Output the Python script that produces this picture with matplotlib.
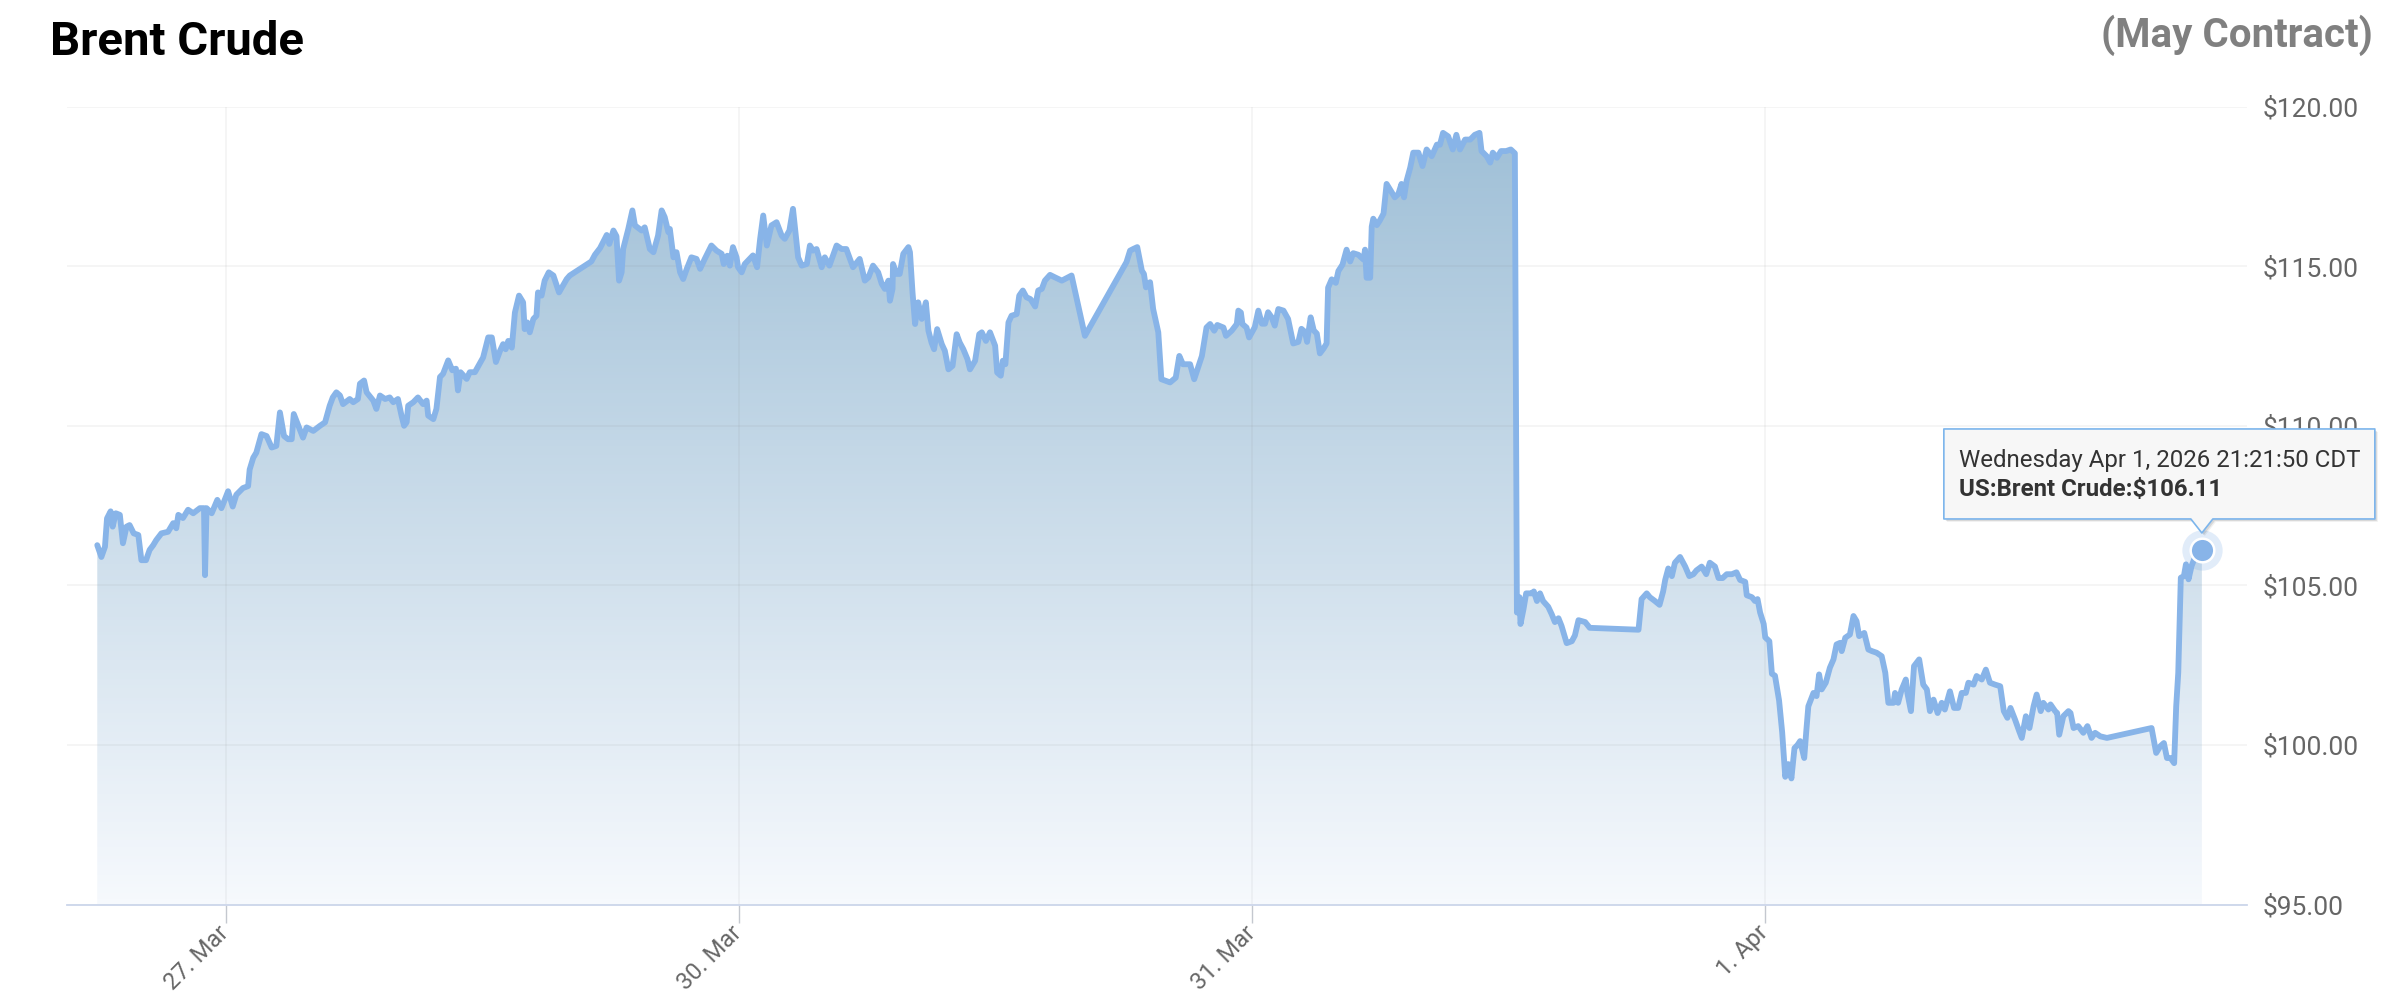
import matplotlib
matplotlib.use("Agg")
import matplotlib.pyplot as plt
import matplotlib.transforms as mtransforms
import numpy as np
from matplotlib.colors import LinearSegmentedColormap
from matplotlib.patches import Polygon

# x = trading-session position (0 = 27 Mar, 1 = 30 Mar, 2 = 31 Mar, 3 = 1 Apr), weekend skipped
t_days = [
    -0.250, -0.242, -0.235, -0.231, -0.224, -0.220, -0.214, -0.206, -0.200, -0.193,
    -0.187, -0.179, -0.170, -0.164, -0.155, -0.148, -0.141, -0.135, -0.125, -0.112,
    -0.102, -0.096, -0.092, -0.083, -0.073, -0.063, -0.050, -0.042, -0.040, -0.037,
    -0.027, -0.016, -0.008, 0.005, 0.014, 0.021, 0.034, 0.044, 0.047, 0.054,
    0.060, 0.070, 0.080, 0.090, 0.099, 0.106, 0.114, 0.122, 0.129, 0.133,
    0.142, 0.151, 0.158, 0.171, 0.184, 0.194, 0.203, 0.209, 0.216, 0.223,
    0.229, 0.242, 0.249, 0.258, 0.262, 0.270, 0.275, 0.288, 0.294, 0.301,
    0.311, 0.320, 0.327, 0.336, 0.343, 0.348, 0.353, 0.356, 0.366, 0.375,
    0.385, 0.392, 0.395, 0.405, 0.411, 0.418, 0.424, 0.434, 0.442, 0.449,
    0.453, 0.458, 0.470, 0.476, 0.486,
    0.502, 0.512, 0.519, 0.527, 0.535, 0.541, 0.546, 0.551, 0.558, 0.564,
    0.572, 0.580, 0.583, 0.588, 0.593, 0.600, 0.606, 0.609, 0.616, 0.622,
    0.630, 0.639, 0.650, 0.665, 0.671, 0.713, 0.720, 0.730, 0.743, 0.748,
    0.756, 0.762, 0.767, 0.772, 0.775, 0.785, 0.793, 0.798, 0.811, 0.817,
    0.827, 0.834, 0.843, 0.850, 0.856, 0.863, 0.866, 0.873, 0.879, 0.886,
    0.892, 0.899, 0.908, 0.918, 0.925, 0.934, 0.947, 0.957, 0.967, 0.971,
    0.978, 0.983, 0.989, 0.996, 0.999, 1.006, 1.012, 1.028, 1.036, 1.042,
    1.048, 1.055, 1.064, 1.074, 1.084, 1.090, 1.099, 1.106, 1.116, 1.123,
    1.133, 1.139, 1.145, 1.152, 1.162, 1.168, 1.177, 1.191, 1.201, 1.210,
    1.223, 1.236,
    1.246, 1.253, 1.262, 1.272, 1.279, 1.285, 1.292, 1.295, 1.300, 1.301,
    1.308, 1.314, 1.321, 1.331, 1.334, 1.339, 1.344, 1.350, 1.357, 1.365,
    1.370, 1.376, 1.381, 1.387, 1.396, 1.402, 1.409, 1.417, 1.425, 1.431,
    1.438, 1.446, 1.451, 1.461, 1.469, 1.474, 1.482, 1.490, 1.500, 1.504,
    1.511, 1.515, 1.520, 1.526, 1.532, 1.542, 1.547, 1.554, 1.561, 1.569,
    1.578, 1.584, 1.591, 1.597, 1.607, 1.617, 1.630, 1.649, 1.675, 1.756,
    1.763, 1.769, 1.777, 1.786, 1.790, 1.794, 1.802, 1.808, 1.818, 1.824,
    1.841, 1.852, 1.859, 1.866, 1.880, 1.888, 1.903, 1.912, 1.919, 1.927,
    1.933, 1.945, 1.950, 1.961, 1.971, 1.974, 1.979, 1.982, 1.990, 1.995,
    2.006, 2.013, 2.020, 2.026, 2.032, 2.039, 2.045, 2.052, 2.062, 2.071,
    2.081, 2.091, 2.097, 2.104, 2.108, 2.115, 2.121, 2.127, 2.133, 2.140,
    2.146, 2.149, 2.156, 2.164, 2.169, 2.177, 2.185, 2.192, 2.198, 2.208,
    2.218, 2.221, 2.224, 2.231, 2.234, 2.237, 2.244, 2.250, 2.257, 2.263,
    2.271, 2.279, 2.286, 2.292, 2.297, 2.302, 2.309, 2.315, 2.325, 2.333,
    2.341, 2.351, 2.361, 2.367, 2.373, 2.383, 2.392, 2.399, 2.406, 2.416,
    2.426, 2.435, 2.444, 2.448, 2.458, 2.465, 2.470, 2.478, 2.486, 2.496,
    2.505, 2.513,
    2.517, 2.522, 2.524, 2.530, 2.535, 2.546, 2.550, 2.556, 2.562, 2.568,
    2.578, 2.585, 2.591, 2.598, 2.604, 2.614, 2.624, 2.630, 2.637, 2.650,
    2.659, 2.754, 2.760, 2.770, 2.776, 2.786, 2.795, 2.802, 2.806, 2.812,
    2.819, 2.825, 2.835, 2.845, 2.853, 2.861, 2.867, 2.877, 2.886, 2.893,
    2.903, 2.910, 2.918, 2.926, 2.936, 2.945, 2.952, 2.962, 2.965, 2.975,
    2.981, 2.986, 2.991, 2.998, 3.001, 3.009, 3.014, 3.020, 3.028, 3.034,
    3.040, 3.046, 3.052, 3.058, 3.064,
    3.069, 3.077, 3.081, 3.085, 3.095, 3.101, 3.106, 3.111, 3.119, 3.127,
    3.134, 3.140, 3.147, 3.150, 3.157, 3.166, 3.173, 3.179, 3.184, 3.194,
    3.202, 3.209, 3.218, 3.228, 3.235, 3.241, 3.251, 3.254, 3.260, 3.267,
    3.275, 3.278, 3.285, 3.291, 3.301, 3.309, 3.316, 3.322, 3.329, 3.337,
    3.345, 3.351, 3.361, 3.369, 3.377, 3.384, 3.392, 3.397, 3.407, 3.413,
    3.423, 3.431, 3.439, 3.449, 3.459, 3.466, 3.473, 3.479, 3.488, 3.496,
    3.501, 3.509, 3.516, 3.524, 3.530, 3.538, 3.543, 3.553, 3.557, 3.566,
    3.570, 3.574, 3.582, 3.592, 3.596, 3.602, 3.611, 3.621, 3.629, 3.637,
    3.644, 3.654, 3.667, 3.754, 3.763, 3.771, 3.778, 3.784, 3.791, 3.798,
    3.802, 3.806, 3.810, 3.811, 3.817, 3.821, 3.826, 3.832, 3.837, 3.852,
]

price = [
    106.26, 105.89, 106.21, 107.10, 107.32, 106.84, 107.26, 107.21, 106.32, 106.84,
    106.89, 106.63, 106.58, 105.79, 105.79, 106.11, 106.26, 106.42, 106.63, 106.68,
    106.95, 106.79, 107.21, 107.11, 107.37, 107.26, 107.42, 107.42, 105.32, 107.42,
    107.26, 107.68, 107.42, 107.95, 107.47, 107.84, 108.05, 108.11, 108.63, 109.00,
    109.16, 109.74, 109.68, 109.32, 109.37, 110.42, 109.68, 109.58, 109.58, 110.37,
    110.00, 109.63, 109.95, 109.84, 110.00, 110.11, 110.63, 110.89, 111.05, 110.95,
    110.68, 110.84, 110.74, 110.84, 111.32, 111.42, 111.05, 110.79, 110.53, 110.95,
    110.84, 110.89, 110.74, 110.84, 110.32, 110.00, 110.11, 110.63, 110.74, 110.89,
    110.68, 110.79, 110.32, 110.21, 110.53, 111.53, 111.63, 112.05, 111.74, 111.79,
    111.11, 111.68, 111.47, 111.68, 111.68,
    112.14, 112.77, 112.77, 112.00, 112.35, 112.56, 112.40, 112.66, 112.45, 113.55,
    114.08, 113.87, 113.03, 113.24, 112.93, 113.35, 113.45, 114.18, 114.08, 114.55,
    114.81, 114.71, 114.18, 114.60, 114.71, 115.15, 115.36, 115.57, 115.98, 115.70,
    116.12, 115.94, 114.55, 114.81, 115.54, 116.17, 116.75, 116.28, 116.12, 116.22,
    115.54, 115.44, 115.96, 116.75, 116.54, 116.07, 116.17, 115.28, 115.44, 114.81,
    114.60, 114.92, 115.28, 115.23, 114.92, 115.23, 115.65, 115.49, 115.39, 115.07,
    115.33, 115.02, 115.60, 115.28, 114.97, 114.81, 115.07, 115.34, 114.97, 115.86,
    116.59, 115.65, 116.28, 116.38, 115.96, 115.86, 116.12, 116.80, 115.28, 115.02,
    115.07, 115.65, 115.49, 115.54, 114.97, 115.28, 115.02, 115.65, 115.54, 115.54,
    114.97, 115.23,
    114.55, 114.65, 115.02, 114.81, 114.45, 114.29, 114.55, 113.92, 114.29, 115.07,
    114.76, 114.76, 115.39, 115.60, 115.44, 114.18, 113.19, 113.87, 113.35, 113.87,
    112.98, 112.61, 112.40, 113.03, 112.56, 112.35, 111.77, 111.88, 112.87, 112.61,
    112.40, 112.09, 111.77, 112.04, 112.87, 112.93, 112.66, 112.93, 112.51, 111.67,
    111.57, 112.04, 111.93, 113.24, 113.45, 113.50, 114.08, 114.24, 114.03, 113.97,
    113.74, 114.24, 114.29, 114.55, 114.73, 114.65, 114.55, 114.71, 112.82, 115.13,
    115.49, 115.54, 115.60, 114.86, 114.76, 114.34, 114.50, 113.66, 112.93, 111.46,
    111.36, 111.51, 112.19, 111.93, 111.93, 111.46, 112.19, 113.08, 113.19, 112.98,
    113.16, 113.08, 112.82, 112.98, 113.19, 113.61, 113.55, 113.19, 113.08, 112.77,
    113.09, 113.61, 113.20, 113.20, 113.56, 113.40, 113.14, 113.66, 113.61, 113.35,
    112.58, 112.63, 113.04, 112.94, 112.63, 113.40, 112.99, 112.89, 112.27, 112.42,
    112.58, 114.33, 114.59, 114.48, 114.85, 115.05, 115.52, 115.15, 115.41, 115.36,
    115.21, 115.52, 114.64, 114.64, 116.24, 116.49, 116.29, 116.44, 116.65, 117.58,
    117.37, 117.16, 117.27, 117.58, 117.16, 117.68, 118.09, 118.56, 118.56, 118.14,
    118.66, 118.45, 118.81, 118.81, 119.18, 119.07, 118.66, 119.12, 118.66, 118.97,
    118.97, 119.12, 119.18, 118.61, 118.45, 118.25, 118.56, 118.40, 118.61, 118.61,
    118.66, 118.54,
    104.15, 104.63, 103.79, 104.27, 104.75, 104.75, 104.81, 104.51, 104.75, 104.51,
    104.33, 104.09, 103.85, 103.97, 103.73, 103.19, 103.25, 103.43, 103.91, 103.85,
    103.67, 103.61, 104.57, 104.75, 104.63, 104.51, 104.39, 104.81, 105.17, 105.53,
    105.29, 105.71, 105.89, 105.59, 105.29, 105.35, 105.47, 105.59, 105.35, 105.71,
    105.59, 105.23, 105.23, 105.35, 105.35, 105.41, 105.17, 105.11, 104.69, 104.63,
    104.51, 104.57, 104.15, 103.79, 103.37, 103.25, 102.23, 102.17, 101.39, 100.40,
    99.00, 99.40, 98.95, 99.90, 100.00,
    100.12, 99.59, 100.43, 101.21, 101.63, 101.53, 102.21, 101.74, 101.95, 102.42,
    102.68, 103.15, 103.20, 102.94, 103.36, 103.46, 104.04, 103.88, 103.41, 103.51,
    102.99, 102.94, 102.89, 102.78, 102.26, 101.32, 101.32, 101.63, 101.32, 101.74,
    102.05, 101.63, 101.06, 102.47, 102.68, 101.89, 101.74, 101.06, 101.42, 101.00,
    101.32, 101.11, 101.68, 101.16, 101.16, 101.63, 101.63, 101.95, 101.89, 102.16,
    102.05, 102.36, 101.95, 101.89, 101.84, 101.06, 100.85, 101.16, 100.79, 100.43,
    100.22, 100.90, 100.53, 101.21, 101.58, 101.06, 101.32, 101.11, 101.27, 101.06,
    101.00, 100.32, 100.90, 101.06, 101.00, 100.53, 100.59, 100.38, 100.59, 100.22,
    100.38, 100.27, 100.22, 100.53, 99.75, 99.96, 100.06, 99.59, 99.59, 99.43,
    101.21, 102.26, 104.56, 105.24, 105.29, 105.66, 105.19, 105.61, 105.82, 106.11,
]

tick_pos = [0, 1, 2, 3]
tick_labels = ["27. Mar", "30. Mar", "31. Mar", "1. Apr"]
y_ticks = [95, 100, 105, 110, 115, 120]

title = "Brent Crude"
subtitle = "(May Contract)"
tip_time = "Wednesday Apr 1, 2026 21:21:50 CDT"
tip_value = "US:Brent Crude:$106.11"

LINE = "#88b4e8"
GREY_TXT = "#666666"

plt.rcParams["font.family"] = ["Roboto", "DejaVu Sans"]

W, H = 2392, 1000
fig = plt.figure(figsize=(W / 100, H / 100), dpi=100)
ax = fig.add_axes([67 / W, 1 - 904.5 / H, (2247 - 67) / W, (904.5 - 106.7) / H])

x0, x1 = -0.309, 3.940
y0, y1 = 95, 120

# gradient area under the line
cmap = LinearSegmentedColormap.from_list("fill", ["#f6f9fd", "#9dbed6"])
grad = np.linspace(0, 1, 256).reshape(-1, 1)
im = ax.imshow(grad, extent=[x0, x1, y0, y1], origin="lower", cmap=cmap,
               aspect="auto", zorder=1, interpolation="bilinear")
verts = np.column_stack([np.r_[t_days[0], t_days, t_days[-1]],
                         np.r_[y0, price, y0]])
clip = Polygon(verts, closed=True, fc="none", ec="none")
ax.add_patch(clip)
im.set_clip_path(clip)

ax.plot(t_days, price, color=LINE, lw=4.2, solid_joinstyle="round",
        solid_capstyle="round", zorder=3)

# hovered point
ax.plot(t_days[-1], price[-1], "o", ms=29, color=LINE, alpha=0.25, mec="none", zorder=4)
ax.plot(t_days[-1], price[-1], "o", ms=17, mfc=LINE, mec="white", mew=1.8, zorder=5)

ax.set_xlim(x0, x1)
ax.set_ylim(y0, y1)

for s in ["top", "left", "right"]:
    ax.spines[s].set_visible(False)
ax.spines["bottom"].set_color("#ccd6eb")
ax.spines["bottom"].set_linewidth(1.3)
ax.spines["bottom"].set_zorder(6)

ax.set_xticks(tick_pos, tick_labels, rotation=45, ha="right", va="center",
              rotation_mode="anchor", fontsize=17, color=GREY_TXT)
ax.tick_params(axis="x", length=13, width=1.0, color="#c4c8cf", pad=5)

ax.set_yticks(y_ticks, [f"${v:.2f}" for v in y_ticks])
ax.yaxis.tick_right()
ax.tick_params(axis="y", length=0, pad=11, labelsize=19, labelcolor=GREY_TXT)

ax.grid(True, color="#7f7f7f", alpha=0.09, lw=1.1, zorder=2)
ax.set_axisbelow(False)
for gl in ax.get_xgridlines() + ax.get_ygridlines():
    gl.set_zorder(2)

# titles
fig.text(49.5 / W, 1 - 55 / H, title, fontsize=34, fontweight="bold",
         color="black", va="baseline", ha="left")
fig.text(2373 / W, 1 - 47 / H, subtitle, fontsize=29, fontweight="bold",
         color="#808080", va="baseline", ha="right")

# tooltip, placed relative to the hovered point (display pixels)
fig.canvas.draw()
px, py = ax.transData.transform((t_days[-1], price[-1]))
left, right = px - 258, px + 173
bottom, top = py + 31, py + 121
tip_y = py + 17
notch = 11
outline = [(left, bottom), (px - notch, bottom), (px, tip_y), (px + notch, bottom),
           (right, bottom), (right, top), (left, top)]
ident = mtransforms.IdentityTransform()
for off, a in [(3, 0.06), (2, 0.10)]:
    shadow = Polygon([(x + off, y - off) for x, y in outline], closed=True,
                     fc="black", ec="none", alpha=a, transform=ident, zorder=7)
    fig.add_artist(shadow)
box = Polygon(outline, closed=True, fc="#f7f7f7", ec="#7cb5ec", lw=1.2,
              joinstyle="round", transform=ident, zorder=8)
fig.add_artist(box)
fig.text((left + 15) / W, (top - 32) / H, tip_time, fontsize=17.3,
         color="#333333", va="center", ha="left", zorder=9)
fig.text((left + 15) / W, (top - 61) / H, tip_value, fontsize=17.3,
         fontweight="bold", color="#333333", va="center", ha="left", zorder=9)

fig.savefig("out.png", dpi=100)
